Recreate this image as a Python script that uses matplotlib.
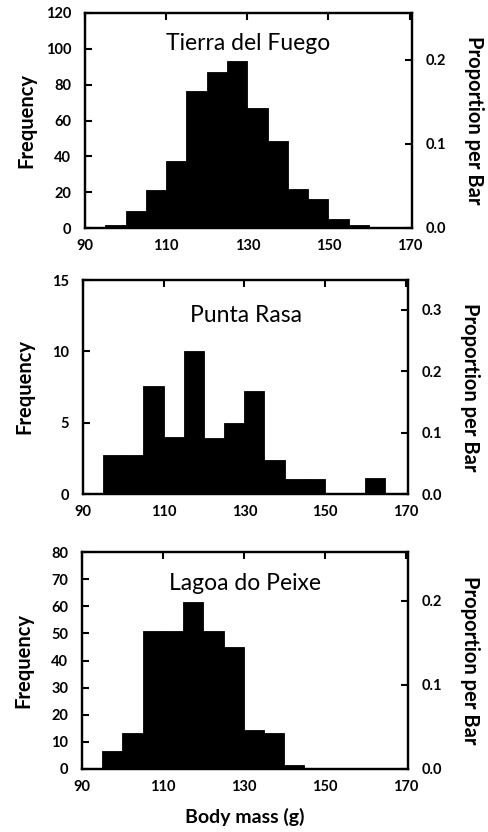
import matplotlib
matplotlib.use("Agg")
import matplotlib.pyplot as plt
import numpy as np

plt.rcParams['font.family'] = ['Lato', 'DejaVu Sans']

# Bin left edges (g), bin width 5
bin_width = 5
tdf_edges = [95, 100, 105, 110, 115, 120, 125, 130, 135, 140, 145, 150, 155, 160]
tdf_freq = [1.5, 9.3, 21, 37.6, 76.4, 87, 93, 66.7, 48.6, 21.6, 16, 5.2, 1.9, 0.6]

pr_edges = [95, 100, 105, 110, 115, 120, 125, 130, 135, 140, 145, 150, 155, 160]
pr_freq = [2.7, 2.7, 7.6, 4.0, 10.0, 3.9, 5.0, 7.2, 2.35, 1.05, 1.05, 0, 0, 1.1]

lp_edges = [95, 100, 105, 110, 115, 120, 125, 130, 135, 140, 145, 150]
lp_freq = [6.8, 13.4, 51, 51, 61.6, 50.7, 45.1, 14.4, 13.4, 1.4, 0.5, 0.3]

titles = ["Tierra del Fuego", "Punta Rasa", "Lagoa do Peixe"]
sample_sizes = [470, 43, 310]
freq_max = [120, 15, 80]
freq_ticks = [list(range(0, 121, 20)), [0, 5, 10, 15], list(range(0, 81, 10))]
prop_ticks = [[0.0, 0.1, 0.2], [0.0, 0.1, 0.2, 0.3], [0.0, 0.1, 0.2]]
x_ticks = [90, 110, 130, 150, 170]

edges_all = [tdf_edges, pr_edges, lp_edges]
freq_all = [tdf_freq, pr_freq, lp_freq]

W, H = 488, 832
fig = plt.figure(figsize=(W / 100, H / 100), dpi=100)

# axes boxes in pixels: left, right, top, bottom
boxes = [(85, 412, 13, 228), (83, 408, 280, 494), (82, 408, 552, 769)]
title_y = [0.86, 0.836, 0.857]

for i in range(3):
    l, r, t, b = boxes[i]
    ax = fig.add_axes([l / W, 1 - b / H, (r - l) / W, (b - t) / H])
    ax.bar(edges_all[i], freq_all[i], width=bin_width, align='edge',
           color='black', edgecolor='black', linewidth=0.6)
    ax.set_xlim(90, 170.6)
    ax.set_ylim(0, freq_max[i])
    ax.set_xticks(x_ticks)
    ax.set_yticks(freq_ticks[i])
    ax.tick_params(axis='x', which='both', bottom=False, top=True, direction='in',
                   length=5, width=1.5, labelsize=10.5, pad=8)
    ax.tick_params(axis='y', direction='in', length=5, width=1.5, labelsize=10.5, pad=10)
    for lab in ax.get_xticklabels() + ax.get_yticklabels():
        lab.set_fontweight('bold')
    for s in ax.spines.values():
        s.set_linewidth(1.6)
    ax.set_ylabel("Frequency", fontsize=14.5, fontweight='bold', va='center')
    ax.yaxis.set_label_coords(-0.18, 0.5)
    ax.text(0.5, title_y[i], titles[i], transform=ax.transAxes, ha='center',
            va='center', fontsize=16.5)

    ax2 = ax.twinx()
    ax2.set_ylim(0, freq_max[i] / sample_sizes[i])
    ax2.set_yticks(prop_ticks[i])
    ax2.set_yticklabels([f"{v:.1f}" for v in prop_ticks[i]])
    ax2.tick_params(axis='y', direction='in', length=5, width=1.5, labelsize=10.5, pad=10)
    for lab in ax2.get_yticklabels():
        lab.set_fontweight('bold')
    for s in ax2.spines.values():
        s.set_linewidth(1.6)
    ax2.set_ylabel("Proportion per Bar", fontsize=14.5, fontweight='bold',
                   rotation=-90, va='center')
    ax2.yaxis.set_label_coords(1.19, 0.5)

    if i == 2:
        ax.set_xlabel("Body mass (g)", fontsize=14, fontweight='bold', labelpad=10)

fig.savefig("out.png", dpi=100)
